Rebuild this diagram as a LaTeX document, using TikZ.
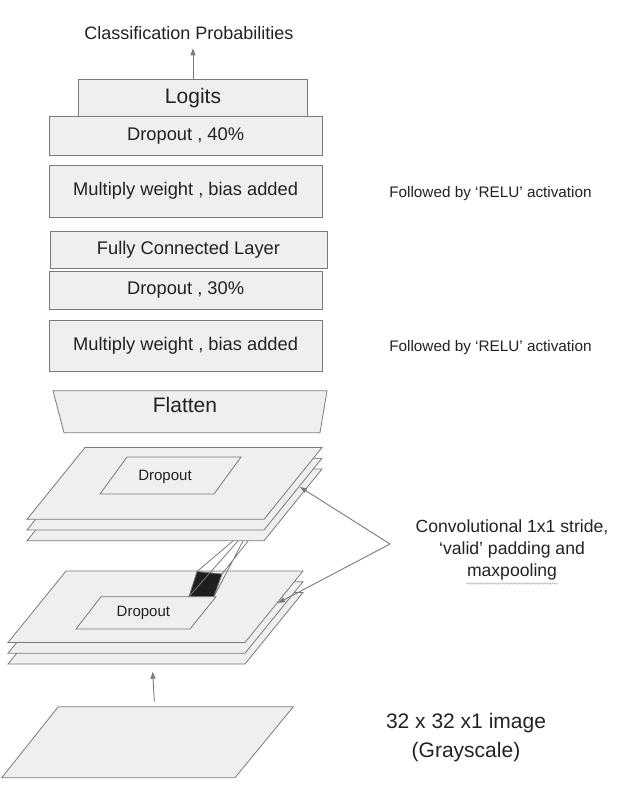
\documentclass[tikz,border=0pt]{standalone}
\usepackage{fontspec}
\setmainfont{Liberation Sans}
\usetikzlibrary{arrows.meta,decorations.pathmorphing}

\definecolor{boxfill}{HTML}{EFEFEF}
\definecolor{boxline}{HTML}{7A7A7A}
\definecolor{inkgray}{HTML}{222222}

\tikzset{
  layerbox/.style={draw=boxline, fill=boxfill, line width=0.8pt, inner sep=0pt,
    text=inkgray, font=\fontsize{18.3}{22}\selectfont},
  sheet/.style={draw=boxline, fill=boxfill, line width=0.8pt},
  conn/.style={draw=boxline, line width=0.9pt, -{Triangle[length=7pt,width=5pt]}},
  bigtext/.style={text=inkgray, font=\fontsize{21}{26}\selectfont},
  sidetext/.style={text=inkgray, font=\fontsize{15.3}{18}\selectfont},
}

\begin{document}
\begin{tikzpicture}[x=1pt, y=-1pt]
    \useasboundingbox (0,0) rectangle (616,800);

    % Output on top
    \node[text=inkgray, font=\fontsize{18}{22}\selectfont] (clsprob) at (189,33.3) {Classification Probabilities};
    \coordinate (clstip) at (193,48.3);

    % Dense part of the network
    \node[layerbox, bigtext, minimum width=229.4pt, minimum height=37.4pt] (logits) at (193,98) {Logits};
    \node[layerbox, minimum width=272.7pt, minimum height=38.3pt] (drop40) at (185.65,135.85) {Dropout , 40\%};
    \node[layerbox, minimum width=272.7pt, minimum height=52pt] (mult1) at (185.65,191) {Multiply weight , bias added};
    \node[layerbox, minimum width=277pt, minimum height=37pt] (fclayer) at (188.5,249.5) {Fully Connected Layer};
    \node[layerbox, minimum width=272.7pt, minimum height=37.3pt] (drop30) at (185.65,290.35) {Dropout , 30\%};
    \node[layerbox, minimum width=272.7pt, minimum height=51.7pt] (mult2) at (185.65,345.85) {Multiply weight , bias added};
    \draw[conn] (logits.north) -- (clstip);

    % Notes on the right
    \node[sidetext] (relu1) at (490.5,193.3) {Followed by `RELU' activation};
    \node[sidetext] (relu2) at (490.5,348) {Followed by `RELU' activation};

    % Flatten trapezoid
    \filldraw[sheet] (53,390.7) -- (327,390.7) -- (320,432.7) -- (64,432.7) -- cycle;
    \node[bigtext] (flatten) at (185,405) {Flatten};

    % Upper conv stack (three sheets)
    \foreach \d in {21.5,10.7,0} {
      \filldraw[sheet, shift={(0,\d)}] (85,447.5) -- (322,447.5) -- (264,519.3) -- (27,519.3) -- cycle;
    }
    \filldraw[sheet] (127,457) -- (241,457) -- (214,494) -- (100,494) -- cycle;
    \node[text=inkgray, font=\fontsize{15}{18}\selectfont] (dropA) at (165,476.7) {Dropout};

    % Lower conv stack (three sheets)
    \foreach \d in {21.5,10.7,0} {
      \filldraw[sheet, shift={(0,\d)}] (66,571) -- (303,571) -- (245,642.5) -- (8,642.5) -- cycle;
    }
    \filldraw[sheet] (101,596.7) -- (216,596.7) -- (190,629) -- (76,629) -- cycle;
    \node[text=inkgray, font=\fontsize{15}{18}\selectfont] (dropB) at (143.4,613.3) {Dropout};

    % Filter patch and its lines up to the next stack
    \coordinate (sqTL) at (197,571.5);
    \coordinate (sqTR) at (222,574);
    \coordinate (sqBR) at (214,596.5);
    \coordinate (sqBL) at (189,596.5);
    \filldraw[fill=black!88, draw=boxline, line width=0.8pt] (sqTL) -- (sqTR) -- (sqBR) -- (sqBL) -- cycle;
    \coordinate (rfA) at (233,541);
    \coordinate (rfB) at (238,541);
    \coordinate (rfC) at (243,541);
    \coordinate (rfD) at (248,541);
    \draw[boxline, line width=0.8pt] (rfA) -- (sqTL) (rfB) -- (sqBL) (rfC) -- (sqBR) (rfD) -- (sqTR);

    % Convolution note with its two arrows
    \node[text=inkgray, align=center, font=\fontsize{17.6}{22}\selectfont] (convlbl) at (512,550)
      {Convolutional 1x1 stride,\\`valid' padding and\\maxpooling};
    \draw[gray!60, line width=0.5pt, decorate, decoration={snake, amplitude=0.8pt, segment length=2.6pt}]
      (466,583.5) -- (558,583.5);
    \coordinate (convpt) at (390,544);
    \coordinate (convtipA) at (300,487);
    \coordinate (convtipB) at (278,603);
    \draw[conn] (convpt) -- (convtipA);
    \draw[conn] (convpt) -- (convtipB);

    % Input image
    \filldraw[sheet] (58.3,706.7) -- (293.3,706.7) -- (235,777.7) -- (1.7,777.7) -- cycle;
    \coordinate (imgtail) at (154.3,701.7);
    \coordinate (imgtip) at (152.7,671.7);
    \draw[conn] (imgtail) -- (imgtip);
    \node[bigtext, align=center, font=\fontsize{21}{28.4}\selectfont] (imglbl) at (466,737.5)
      {32 x 32 x1 image\\(Grayscale)};
\end{tikzpicture}
\end{document}
